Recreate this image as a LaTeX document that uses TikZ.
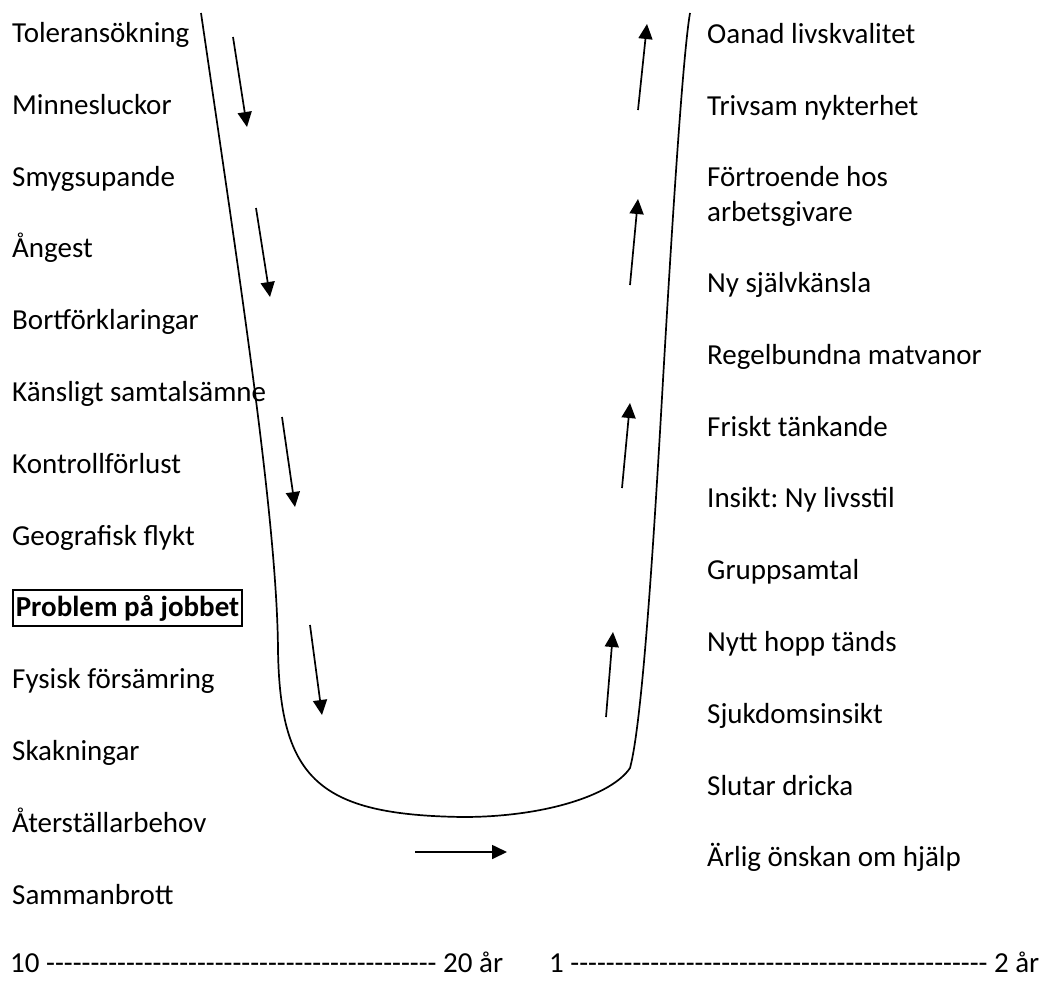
\documentclass[tikz,border=0pt]{standalone}
\usepackage{fontspec}
\setmainfont{Carlito}[Ligatures=TeXOff]
\frenchspacing
\usetikzlibrary{arrows.meta}

\begin{document}
\begin{tikzpicture}[
    x=1pt, y=-1pt,
    % --- Text styles ---
    label/.style = {anchor=base west, inner sep=0pt, align=left,
        font=\fontsize{29}{35}\selectfont},
    jobbox/.style = {label, draw=black, line width=1.6pt, inner xsep=3pt,
        text height=26pt, text depth=10pt,
        font=\fontsize{29}{35}\selectfont\bfseries},
    axis/.style = {label, text depth=0pt},
    % --- Line styles ---
    curve/.style = {line width=1.7pt, draw=black},
    arrow/.style = {line width=1.7pt, -{Triangle[length=15pt, width=14pt]}, draw=black}
]

\useasboundingbox (0,0) rectangle (1049,980);

% ==================== LEFT: DOWNWARD ====================
\node[label] (ner1) at (12,42) {Toleransökning};
\node[label] (ner2) at (12,114) {Minnesluckor};
\node[label] (ner3) at (12,186) {Smygsupande};
\node[label] (ner4) at (12,257) {Ångest};
\node[label] (ner5) at (12,329) {Bortförklaringar};
\node[label] (ner6) at (12,401) {Känsligt samtalsämne};
\node[label] (ner7) at (12,473) {Kontrollförlust};
\node[label] (ner8) at (12,545) {Geografisk flykt};
\node[jobbox] (ner9) at (12,616) {Problem på jobbet};
\node[label] (ner10) at (12,688) {Fysisk försämring};
\node[label] (ner11) at (12,760) {Skakningar};
\node[label] (ner12) at (12,832) {Återställarbehov};
\node[label] (ner13) at (12,904) {Sammanbrott};

% ==================== RIGHT: UPWARD ====================
\node[label] (upp1) at (707,43) {Oanad livskvalitet};
\node[label] (upp2) at (707,115) {Trivsam nykterhet};
\node[label] (upp3) at (707,221) {Förtroende hos\\arbetsgivare};
\node[label] (upp4) at (707,292) {Ny självkänsla};
\node[label] (upp5) at (707,364) {Regelbundna matvanor};
\node[label] (upp6) at (707,436) {Friskt tänkande};
\node[label] (upp7) at (707,507) {Insikt: Ny livsstil};
\node[label] (upp8) at (707,579) {Gruppsamtal};
\node[label] (upp9) at (707,651) {Nytt hopp tänds};
\node[label] (upp10) at (707,723) {Sjukdomsinsikt};
\node[label] (upp11) at (707,795) {Slutar dricka};
\node[label] (upp12) at (707,866) {Ärlig önskan om hjälp};

% ==================== TIME AXIS ====================
\node[axis] (tid1) at (10,972) {10 -------------------------------------------- 20 år};
\node[axis] (tid2) at (549,972) {1 ----------------------------------------------- 2 år};

% ==================== CURVE ====================
\draw[curve] (201,13) .. controls (240,280) and (277,520) .. (278,650)
    .. controls (280,780) and (320,815) .. (463,817)
    .. controls (545,817) and (612,795) .. (630,768)
    .. controls (643,720) and (655,520) .. (663,380)
    .. controls (670,260) and (682,60) .. (690,13);

% ==================== ARROWS ====================
\coordinate (a1s) at (233,37);  \coordinate (a1e) at (247,127);
\coordinate (a2s) at (256,208); \coordinate (a2e) at (270,297);
\coordinate (a3s) at (282,417); \coordinate (a3e) at (295,507);
\coordinate (a4s) at (310,625); \coordinate (a4e) at (322,715);
\coordinate (b1s) at (415,852); \coordinate (b1e) at (507,852);
\coordinate (c1s) at (606,717); \coordinate (c1e) at (613,632);
\coordinate (c2s) at (622,488); \coordinate (c2e) at (630,403);
\coordinate (c3s) at (630,285); \coordinate (c3e) at (638,199);
\coordinate (c4s) at (638,110); \coordinate (c4e) at (647,24);

\draw[arrow] (a1s) -- (a1e);
\draw[arrow] (a2s) -- (a2e);
\draw[arrow] (a3s) -- (a3e);
\draw[arrow] (a4s) -- (a4e);
\draw[arrow] (b1s) -- (b1e);
\draw[arrow] (c1s) -- (c1e);
\draw[arrow] (c2s) -- (c2e);
\draw[arrow] (c3s) -- (c3e);
\draw[arrow] (c4s) -- (c4e);

\end{tikzpicture}
\end{document}
